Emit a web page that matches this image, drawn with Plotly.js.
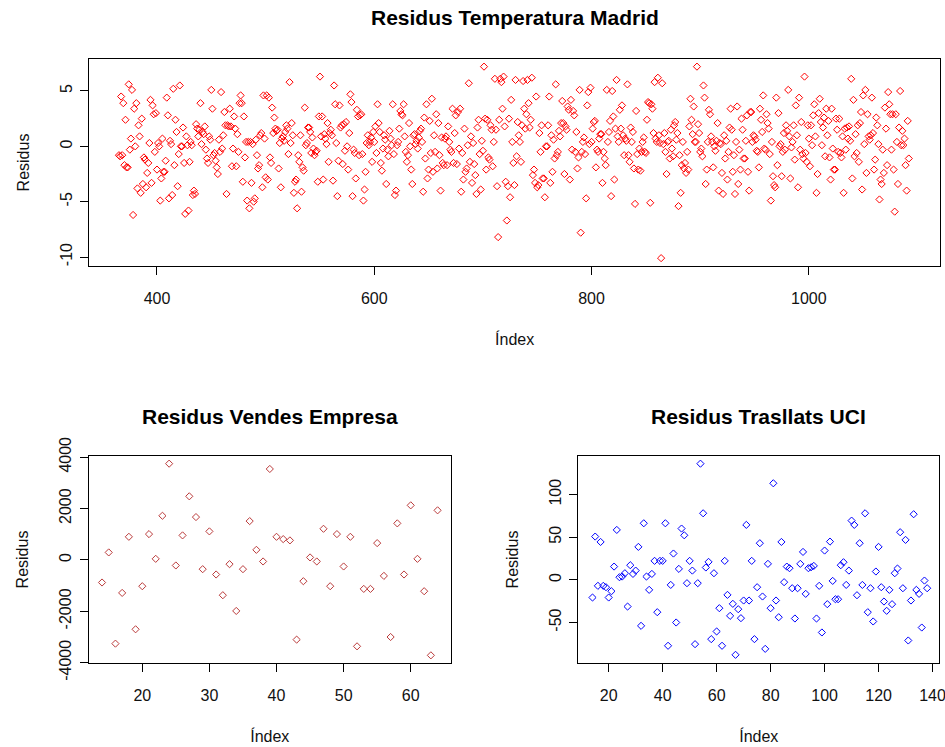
<!DOCTYPE html>
<html>
<head>
<meta charset="utf-8">
<script src="https://cdn.plot.ly/plotly-3.0.1.min.js"></script>
<style>html,body{margin:0;padding:0;background:#fff;}#chart{width:945px;height:747px;}</style>
</head>
<body>
<div id="chart"></div>
<script>
// ---- Data ----
const tempStart = 365;
const tempResidA = [-0.8,-0.9,4.5,-0.8,3.9,-1.7,2.4,-1.9,-1.9,5.6,
-0.3,0.7,5.1,-6.2,3.4,0.0,3.9,-3.8,1.9,0.9,
-4.2,2.5,-3.4,-1.0,-1.2,-3.7,-2.4,-1.5,0.3,4.2,
-3.3,3.7,2.9,-0.5,3.0,-2.1,0.3,0.0,-4.9,-2.9,
0.7,-2.3,-2.3,-1.3,4.4,2.8,-4.7,0.5,0.2,-4.4,
5.2,-1.7,2.4,1.3,-3.6,-0.7,5.5,0.0,0.0,1.7,
-1.5,-6.1,0.9,0.1,-5.8,-1.4,0.4,0.1,-4.4,-4.0,
-4.3,2.0,1.6,0.9,1.5,3.9,0.2,1.3,1.1,1.8,-0.3,-1.1,
-1.5,0.9,0.6,5.1,3.4,-0.8,-0.6,-1.3,-1.9,-2.5,
0.6,-0.5,4.9,-0.2,1.0,3.1,1.9,-4.3,1.9,1.8,
3.4,1.8,-1.8,-0.2,2.7,1.6,-1.8,1.1,-0.5,3.9,
4.6,3.9,-3.2,2.7,-1.0,0.4,-4.9];
const tempResidB = [0.4,-5.6,0.4,-3.3,0.2,-5.0,-4.7,0.6,-0.8,-2.0,
-1.7,1.0,1.2,-3.7,4.6,0.7,-2.8,4.6,-3.0,4.4,
-1.0,-1.5,3.5,1.2,2.6,1.6,1.4,1.5,-2.0,0.3,
-3.7,0.7,0.9,0.5,1.3,1.9,1.6,-0.7,5.8,0.3,2.1,1.0,
-4.2,-3.2,-3.0,-5.6,-0.8,-1.4,1.0,-4.1,-1.9,-2.2,
3.5,0.1,0.3,1.7,1.7,1.3,-0.6,0.8,-0.2,-0.8,-0.5,-0.4,
-3.2,2.7,6.3,0.9,2.7,-3.0,1.1,0.7,0.2,2.1,-1.4,
1.2,1.5,1.0,-3.1,5.5,3.8,0.3,-4.5,-1.3,3.7,1.7,
1.9,-1.6,2.0,-0.4,2.2,0.0,-2.1,1.2,4.7,4.0,
-4.5,-0.3,-0.6,-2.9,3.3,2.7,-0.8,2.8,2.9,-0.7,
-4.9,-3.9,-2.3,0.3,1.0,0.1,0.4,0.8,-1.4,1.3,0.4,1.8,
-0.6,3.8,2.1,1.3,-1.5,-2.2,-0.2,1.0,0.6,-3.4,-0.3,-0.9,
1.4,0.7,0.1,3.8,-0.7,-4.4,-4.0,0.1,0.4,1.6,
3.2,2.9,2.8,3.8,0.9,-0.5,-1.4,-0.8,2.1,0.0,
-2.1,-3.4,1.0,1.1,0.2,0.5,-0.2,0.8,1.4,1.6,0.4,-4.1,
2.6,-1.1,3.8,-2.9,-2.1,2.3,-0.6,4.3,-2.3,1.0,
-0.5,2.9,-2.0,2.1,-0.8,-4.0,0.8,-1.5];
const tempResidC = [-1.7,0.7,0.9,-1.7,1.8,0.4,-0.3,-0.5,3.4,-1.5,1.2,2.8,-1.6,
3.1,-0.2,3.4,-4.1,-0.6,-3.0,1.6,-2.3,-2.0,0.1,
5.7,-1.4,0.9,-3.3,0.3,-1.6,-2.6,-4.3,1.7,2.4,
-0.7,-3.9,0.5,-0.4,7.2,2.5,-2.1,2.4,-1.0,-1.2,1.9,1.5,
-1.8,0.4,6.1,1.5,-3.6,-8.2,2.4,6.1,5.8,3.4,
6.3,1.8,-3.2,-6.7,-3.6,2.5,-4.6,4.2,0.4,-1.5,
-3.5,6.0,-0.9,2.2,1.0,0.4,-1.4,1.9,5.9,3.4,1.6,2.9,
6.0,3.9,1.7,2.4,6.2,-2.6,-2.1,-3.3,4.5,-3.7,
-3.5,1.2,-0.5,1.9,-2.9,-2.9,-4.6,0.0,0.0,1.9,
4.5,-3.3,1.0,-2.3,0.6,-1.1,5.6,-0.8,-0.5,1.4,0.9,2.1,
4.1,2.1,-2.5,1.8,1.5,3.6,3.3,-3.0,4.2,-0.3,
3.2,2.8,-0.5,1.3,-2.0,-1.0,5.1,-7.8,-0.5,0.4,0.8,-0.7,
-4.7,3.7,4.9,0.2,5.3,0.4,1.6,2.2,2.3,-1.9,
-0.3,-0.5,0.7,1.1,1.1,-3.3,-0.5,-1.1,-1.7,5.1,0.4,1.3,
2.3,-4.5,5.0,2.7,-3.0,1.6,6.0,0.9,0.4,3.3,
1.6,3.7,1.0,-0.8,0.7,0.5,5.6,-0.8,-1.4,1.7,
0.4,1.3,-2.0,-5.2,3.2,-0.7,-2.1];
const tempResidD = [-0.2,-2.2,-0.5,0.4,0.8,-0.5,-0.6,2.4,4.0,3.9,-5.1,3.8,
3.4,1.2,5.8,0.7,0.4,6.2,1.0,0.3,-10.1,5.7,0.2,1.2,
-0.5,-2.5,0.4,0.5,-1.1,1.5,-0.2,-0.9,1.9,2.2,0.6,1.2,
-5.4,-0.8,-4.2,-1.7,0.4,-2.0,-1.5,-2.4,-0.5,-2.1,
1.8,4.3,2.4,1.1,3.6,0.4,0.4,7.2,2.0,1.2,-0.5,-0.2,
-0.9,5.5,4.4,-3.4,-2.1,0.4,3.3,2.9,0.9,0.4,
-1.9,0.0,-0.4,0.5,2.1,-4.0,0.3,0.2,-2.4,-4.3,1.0,-1.1,
0.5,-3.0,-0.5,1.7,3.4,1.5,-2.3,-0.8,-4.3,0.4,3.6,-3.4,
-0.3,-2.1,2.5,1.5,-1.1,-1.1,0.5,2.8,-2.3,-4.0,
3.1,3.1,0.4,1.0,0.9,0.6,-0.4,-0.5,-1.9,3.4,2.4,1.3,
4.6,-0.2,-0.3,2.9,2.1,1.6,-0.7,-4.9,0.4,-2.7,
-3.5,-3.7,4.4,-1.7,3.0,0.0,0.2,-2.7,-0.5,1.2,-0.3,1.9,
1.4,5.1,0.9,-2.9,-0.1,0.4,1.9,-1.2,3.7,1.0,
-3.7,4.4,-0.3,2.2,-0.7,-1.1,6.3,-0.6,-1.4,1.9,0.7,-1.8,
1.9,0.1,2.8,3.8,0.9,-4.2,-2.5,3.0,4.3,2.2,
0.1,1.7,2.6,-0.9,3.4,1.0,2.3,-1.0,-3.0,3.4,-0.2,
-2.1];
const tempResidE = [-2.1,2.5,1.5,-0.5,2.5,-0.6,-1.0,0.9,-4.2,1.6,
-0.3,1.7,0.7,1.8,0.5,6.1,-2.9,4.2,-0.9,1.1,-0.6,
1.9,-1.4,2.1,3.1,-3.9,4.6,0.2,5.1,-2.4,2.9,
0.9,0.6,1.0,4.4,1.2,-2.1,-1.2,2.6,1.9,0.2,-4.8,
-3.0,-3.4,-0.3,-2.4,3.5,1.6,-1.7,4.9,3.8,2.9,
-0.3,2.9,-2.1,-5.9,2.9,0.4,-3.4,1.7,5.0,0.1,1.4,
0.1,0.7,-1.7,-4.0,2.3,-1.1];

const salesStart = 14;
const salesResid = [-878,293,-3257,-1283,901,-2699,-1022,1006,43,1720,
3748,-215,956,2477,1669,-359,1112,-566,-1373,-164,
-1985,-359,1513,394,-59,3541,901,811,761,-3101,
-827,98,-59,1213,-1022,1006,-254,901,-3362,-1127,
-1127,655,-620,-2999,1424,-566,2126,43,-1217,-3713,
1931];

const uciStart = 14;
const uciResid = [-20.7,50.8,-7.0,44.5,-7.0,-8.6,-20.7,-13.3,15.6,58.6,
3.1,3.9,7.8,-31.3,17.2,7.0,10.9,38.7,-53.9,66.4,
3.9,-11.7,7.0,22.3,-37.9,22.3,22.3,66.4,-77.3,-5.9,
30.9,-50.0,12.9,60.2,52.3,-3.9,22.3,10.9,-75.4,-3.9,
136.3,78.1,14.5,21.1,-69.5,7.8,-60.5,-33.2,-77.3,22.3,
-17.6,-42.2,-28.1,-87.9,-34.4,-44.9,-24.2,64.5,-24.2,22.3,
-69.5,-8.6,43.0,-19.5,-80.9,18.8,-33.2,113.3,-24.2,-43.8,
44.5,-2.7,15.6,13.7,-9.8,-45.3,-9.8,18.8,32.8,-16.4,
13.7,14.8,16.4,-45.3,-7.0,-61.7,34.4,-28.5,44.9,-1.2,
-22.7,-22.7,17.2,20.7,-5.9,10.9,69.5,64.5,-18.0,43.0,
-5.9,78.1,-37.9,-9.8,-48.8,9.8,38.7,-8.6,-25.4,-36.3,
-11.7,-28.5,7.8,13.3,55.9,-9.8,46.9,-71.1,-24.2,77.0,
-11.7,-16.4,-55.9,-0.8,-9.8];

const titles = ['Residus Temperatura Madrid','Residus Vendes Empresa','Residus Trasllats UCI'];
const xLabel = 'Índex';
const yLabel = 'Residus';
const tempXTicks = [400, 600, 800, 1000];
const tempYTicks = [-10, -5, 0, 5];
const salesXTicks = [20, 30, 40, 50, 60];
const salesYTicks = [-4000, -2000, 0, 2000, 4000];
const uciXTicks = [20, 40, 60, 80, 100, 120, 140];
const uciYTicks = [-50, 0, 50, 100];

// ---- Build ----
const tempResid = [].concat(tempResidA, tempResidB, tempResidC, tempResidD, tempResidE);
const idx = (start, arr) => arr.map((_, i) => start + i);
const lab = (arr) => arr.map(v => String(v));

function mk(x, y, color, xa, ya) {
  return {type: 'scatter', mode: 'markers', x: x, y: y, xaxis: xa, yaxis: ya,
    marker: {symbol: 'diamond-open', size: 5.5, color: color, line: {width: 1, color: color}},
    hoverinfo: 'x+y'};
}

const traces = [
  mk(idx(tempStart, tempResid), tempResid, '#FF0000', 'x', 'y'),
  mk(idx(salesStart, salesResid), salesResid, '#BB3B3B', 'x2', 'y2'),
  mk(idx(uciStart, uciResid), uciResid, '#0000FF', 'x3', 'y3')
];

const W = 945, H = 747;
const base = {showline: true, mirror: true, linecolor: '#000', linewidth: 1,
  ticks: 'outside', ticklen: 8, tickcolor: '#000', tickwidth: 1,
  showgrid: false, zeroline: false, tickfont: {size: 16, color: '#111'},
  ticklabeloverflow: 'allow', fixedrange: true};
const xbase = Object.assign({}, base, {ticklabelstandoff: 10,
  title: {text: xLabel, font: {size: 16, color: '#111'}, standoff: 27}});
const ybase = Object.assign({}, base, {tickangle: -90, ticklabelstandoff: 2,
  title: {text: yLabel, font: {size: 16, color: '#111'}, standoff: 24}});
const tk = (vals) => ({tickmode: 'array', tickvals: vals, ticktext: lab(vals)});

const layout = {
  width: W, height: H, margin: {l: 0, r: 0, t: 0, b: 0},
  paper_bgcolor: '#fff', plot_bgcolor: '#fff', showlegend: false,
  font: {family: 'Liberation Sans, Arial, sans-serif', size: 16, color: '#111'},
  xaxis: Object.assign({}, xbase, tk(tempXTicks), {domain: [89.3/W, 940/W], range: [337.7, 1120.7], anchor: 'y'}),
  yaxis: Object.assign({}, ybase, tk(tempYTicks), {domain: [1-266/H, 1-59/H], range: [-10.81, 7.89], anchor: 'x'}),
  xaxis2: Object.assign({}, xbase, tk(salesXTicks), {domain: [88.6/W, 451/W], range: [12, 66], anchor: 'y2'}),
  yaxis2: Object.assign({}, ybase, tk(salesYTicks), {domain: [1-663/H, 1-456/H], range: [-4011, 4046], anchor: 'x2'}),
  xaxis3: Object.assign({}, xbase, tk(uciXTicks), {domain: [578.3/W, 939.3/W], range: [8.74, 142.5], anchor: 'y3'}),
  yaxis3: Object.assign({}, ybase, tk(uciYTicks), {domain: [1-663/H, 1-456/H], range: [-97.5, 145.3], anchor: 'x3'}),
  annotations: [
    {text: '<b>' + titles[0] + '</b>', xref: 'paper', yref: 'paper', x: 514.6/W, y: 1-18/H,
     xanchor: 'center', yanchor: 'middle', showarrow: false, font: {size: 21, color: '#000'}},
    {text: '<b>' + titles[1] + '</b>', xref: 'paper', yref: 'paper', x: 269.8/W, y: 1-416/H,
     xanchor: 'center', yanchor: 'middle', showarrow: false, font: {size: 21, color: '#000'}},
    {text: '<b>' + titles[2] + '</b>', xref: 'paper', yref: 'paper', x: 758.8/W, y: 1-416/H,
     xanchor: 'center', yanchor: 'middle', showarrow: false, font: {size: 21, color: '#000'}}
  ]
};

Plotly.newPlot('chart', traces, layout, {staticPlot: true, displayModeBar: false});
</script>
</body>
</html>
